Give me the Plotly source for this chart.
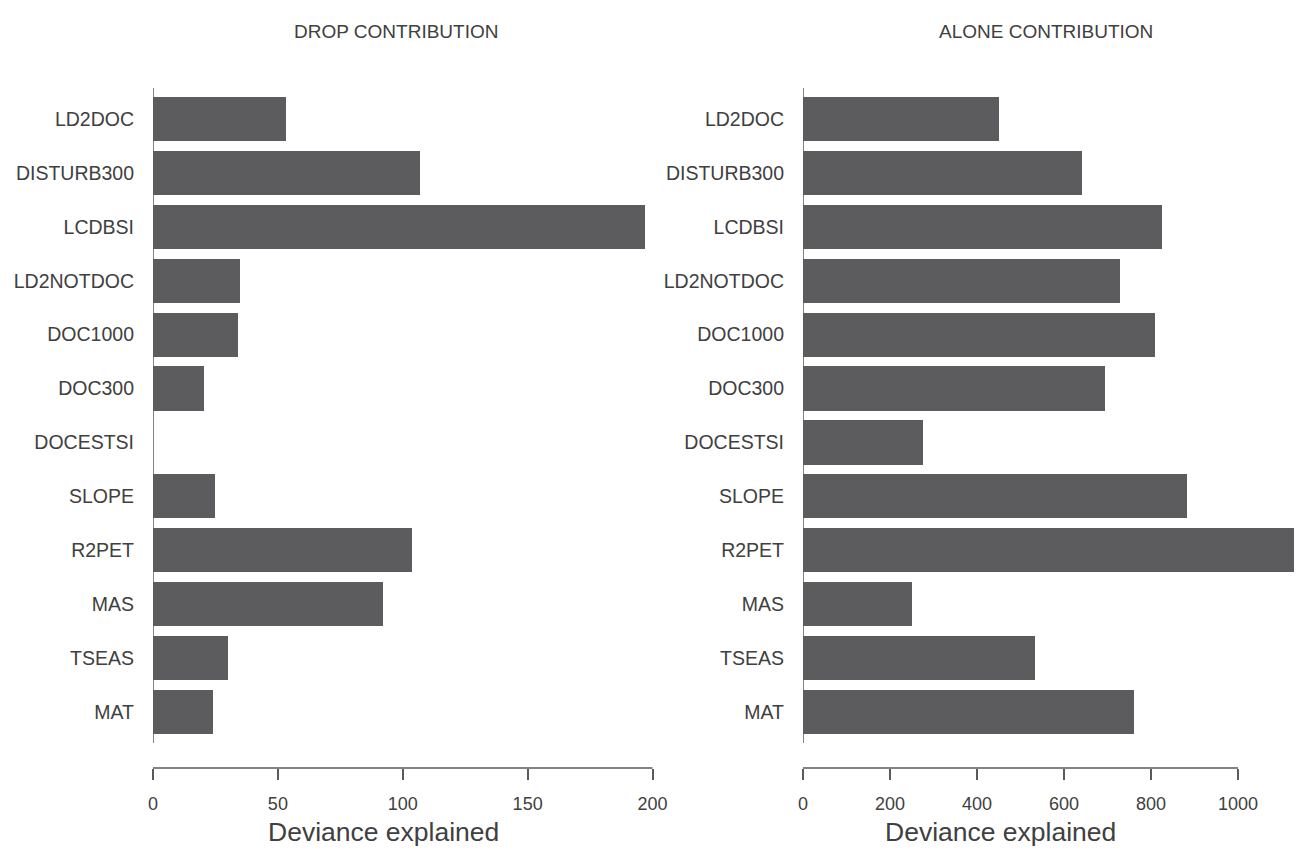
import plotly.graph_objects as go

variables = ["LD2DOC", "DISTURB300", "LCDBSI", "LD2NOTDOC", "DOC1000", "DOC300",
             "DOCESTSI", "SLOPE", "R2PET", "MAS", "TSEAS", "MAT"]
drop_contribution = [53.2, 107, 197, 34.9, 34, 20.6, 0, 24.8, 103.8, 92, 30, 24]
alone_contribution = [450, 641, 825, 729, 809, 694, 276, 883, 1129, 251, 533, 761]
drop_ticks = [0, 50, 100, 150, 200]
alone_ticks = [0, 200, 400, 600, 800, 1000]

W, H = 1308, 854
BAR = "#5c5c5e"
TXT = "#404040"
AX = "#5a5a5a"
FONT = "Liberation Sans, Arial, sans-serif"

fig = go.Figure()
fig.add_trace(go.Bar(x=drop_contribution, y=variables, orientation="h",
                     marker=dict(color=BAR, line=dict(width=0)), width=0.82,
                     xaxis="x", yaxis="y", showlegend=False))
fig.add_trace(go.Bar(x=alone_contribution, y=variables, orientation="h",
                     marker=dict(color=BAR, line=dict(width=0)), width=0.82,
                     xaxis="x2", yaxis="y2", showlegend=False))

ytop, ybot = 88, 768
ydom = [(H - ybot) / H, (H - ytop) / H]
pitch = 53.9
c0 = 119
yr = [(ybot - c0) / pitch, (ytop - c0) / pitch]

xcommon = dict(showgrid=False, zeroline=False, showline=False, ticks="outside",
               ticklen=11, tickwidth=1.5, tickcolor=AX, automargin=False,
               tickfont=dict(family=FONT, size=18, color=TXT),
               ticklabelstandoff=8)
ycommon = dict(showgrid=False, zeroline=False, showline=False, ticks="",
               type="category", categoryorder="array", categoryarray=variables,
               range=yr, tickfont=dict(family=FONT, size=19.5, color=TXT),
               ticklabelstandoff=18, automargin=False)

fig.update_layout(
    width=W, height=H, margin=dict(l=0, r=0, t=0, b=0),
    plot_bgcolor="white", paper_bgcolor="white", bargap=0,
    xaxis=dict(domain=[153 / W, 660 / W], range=[0, 203], tickvals=drop_ticks,
               anchor="y", **xcommon),
    xaxis2=dict(domain=[803 / W, 1300 / W], range=[0, 1142.5], tickvals=alone_ticks,
                anchor="y2", **xcommon),
    yaxis=dict(domain=ydom, anchor="x", **ycommon),
    yaxis2=dict(domain=ydom, anchor="x2", **ycommon),
)

# R-style axis lines (x axis spans only the tick range, y axis spans the bar region)
yline_bottom = (ybot - 743) / (ybot - ytop)
for xr, yr_, xmax in (("x", "y", drop_ticks[-1]), ("x2", "y2", alone_ticks[-1])):
    fig.add_shape(type="line", xref=xr, yref=yr_ + " domain", x0=0, x1=xmax, y0=0, y1=0,
                  line=dict(color=AX, width=1.5))
    fig.add_shape(type="line", xref=xr, yref=yr_ + " domain", x0=0, x1=0,
                  y0=yline_bottom, y1=1, line=dict(color=AX, width=1.5))

for txt, xc in (("DROP CONTRIBUTION", 396), ("ALONE CONTRIBUTION", 1046)):
    fig.add_annotation(text=txt, x=xc / W, y=1 - 31 / H, xref="paper", yref="paper",
                       showarrow=False, xanchor="center", yanchor="middle",
                       font=dict(family=FONT, size=19, color=TXT))

for xc in (383, 1000):
    fig.add_annotation(text="Deviance explained", x=xc / W, y=1 - 832 / H,
                       xref="paper", yref="paper", showarrow=False,
                       xanchor="center", yanchor="middle",
                       font=dict(family=FONT, size=26.5, color=TXT))

fig.write_html("out.html", config={"displayModeBar": False},
               post_script="document.body.style.margin='0px';document.body.style.overflow='hidden';")
